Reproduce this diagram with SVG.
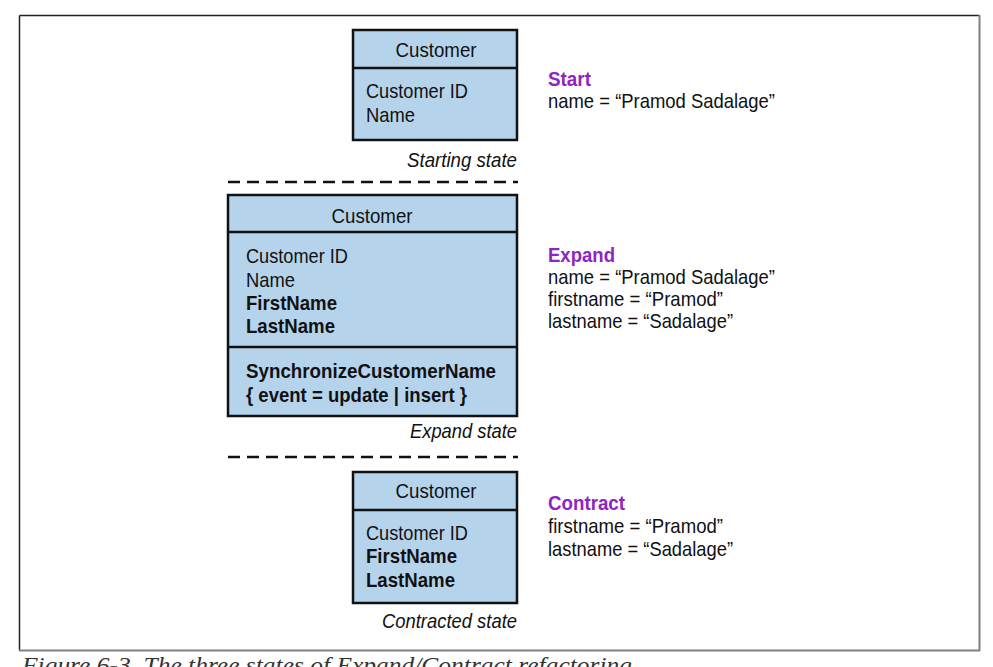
<svg xmlns="http://www.w3.org/2000/svg" width="993" height="667" viewBox="0 0 993 667">
<style>
  text { font-family: "Liberation Sans", Arial, sans-serif; font-size: 21px; fill: #111; }
  .b { font-weight: bold; }
  .hd { text-anchor: middle; }
  .lbl { font-style: italic; text-anchor: end; }
  .step { font-weight: bold; fill: #8e24c1; }
  .box { fill: #b5d4ec; stroke: #111; stroke-width: 2.5; }
  .div { stroke: #111; stroke-width: 2.5; }
  .dash { stroke: #111; stroke-width: 2.5; stroke-dasharray: 12 7; fill: none; }
  .cap { font-family: "Liberation Serif", serif; font-style: italic; font-size: 24px; fill: #333; }
</style>
<rect width="993" height="667" fill="#fff"/>
<g id="frame">
  <line x1="19.5" y1="15.5" x2="979.5" y2="15.5" stroke="#222" stroke-width="1.5"/>
  <line x1="19.5" y1="15.5" x2="19.5" y2="650.5" stroke="#222" stroke-width="1.5"/>
  <line x1="979.5" y1="15" x2="979.5" y2="651" stroke="#808080" stroke-width="2"/>
  <line x1="19" y1="650.5" x2="980" y2="650.5" stroke="#808080" stroke-width="2"/>
</g>
<g id="connectors">
  <line class="dash" x1="228" y1="182" x2="518" y2="182"/>
  <line class="dash" x1="228" y1="457" x2="518" y2="457"/>
</g>
<g id="customer-start">
  <rect class="box" x="353" y="30" width="164" height="110"/>
  <line class="div" x1="353" y1="68" x2="517" y2="68"/>
  <text class="hd" x="436" y="57" textLength="81" lengthAdjust="spacingAndGlyphs">Customer</text>
  <text x="366" y="98" textLength="102" lengthAdjust="spacingAndGlyphs">Customer ID</text>
  <text x="366" y="122" textLength="49" lengthAdjust="spacingAndGlyphs">Name</text>
  <text class="lbl" x="517" y="167" textLength="110" lengthAdjust="spacingAndGlyphs">Starting state</text>
</g>
<g id="customer-expand">
  <rect class="box" x="228" y="195" width="289" height="221"/>
  <line class="div" x1="228" y1="232" x2="517" y2="232"/>
  <line class="div" x1="228" y1="347" x2="517" y2="347"/>
  <text class="hd" x="372" y="223" textLength="81" lengthAdjust="spacingAndGlyphs">Customer</text>
  <text x="246" y="263" textLength="102" lengthAdjust="spacingAndGlyphs">Customer ID</text>
  <text x="246" y="287" textLength="49" lengthAdjust="spacingAndGlyphs">Name</text>
  <text class="b" x="246" y="310" textLength="91" lengthAdjust="spacingAndGlyphs">FirstName</text>
  <text class="b" x="246" y="333" textLength="89" lengthAdjust="spacingAndGlyphs">LastName</text>
  <text class="b" x="246" y="378" textLength="250" lengthAdjust="spacingAndGlyphs">SynchronizeCustomerName</text>
  <text class="b" x="246" y="402" textLength="221" lengthAdjust="spacingAndGlyphs">{ event = update | insert }</text>
  <text class="lbl" x="517" y="438" textLength="107" lengthAdjust="spacingAndGlyphs">Expand state</text>
</g>
<g id="customer-contract">
  <rect class="box" x="353" y="472" width="164" height="131"/>
  <line class="div" x1="353" y1="510" x2="517" y2="510"/>
  <text class="hd" x="436" y="498" textLength="81" lengthAdjust="spacingAndGlyphs">Customer</text>
  <text x="366" y="540" textLength="102" lengthAdjust="spacingAndGlyphs">Customer ID</text>
  <text class="b" x="366" y="563" textLength="91" lengthAdjust="spacingAndGlyphs">FirstName</text>
  <text class="b" x="366" y="587" textLength="89" lengthAdjust="spacingAndGlyphs">LastName</text>
  <text class="lbl" x="517" y="628" textLength="135" lengthAdjust="spacingAndGlyphs">Contracted state</text>
</g>
<g id="note-start">
  <text class="step" x="548" y="86" textLength="43" lengthAdjust="spacingAndGlyphs">Start</text>
  <text x="548" y="108" textLength="227" lengthAdjust="spacingAndGlyphs">name = “Pramod Sadalage”</text>
</g>
<g id="note-expand">
  <text class="step" x="548" y="262" textLength="67" lengthAdjust="spacingAndGlyphs">Expand</text>
  <text x="548" y="284" textLength="227" lengthAdjust="spacingAndGlyphs">name = “Pramod Sadalage”</text>
  <text x="548" y="306" textLength="175" lengthAdjust="spacingAndGlyphs">firstname = “Pramod”</text>
  <text x="548" y="328" textLength="185" lengthAdjust="spacingAndGlyphs">lastname = “Sadalage”</text>
</g>
<g id="note-contract">
  <text class="step" x="548" y="510" textLength="77" lengthAdjust="spacingAndGlyphs">Contract</text>
  <text x="548" y="533" textLength="175" lengthAdjust="spacingAndGlyphs">firstname = “Pramod”</text>
  <text x="548" y="556" textLength="185" lengthAdjust="spacingAndGlyphs">lastname = “Sadalage”</text>
</g>
<text class="cap" x="22" y="673" textLength="610" lengthAdjust="spacingAndGlyphs">Figure 6-3. The three states of Expand/Contract refactoring</text>
</svg>
